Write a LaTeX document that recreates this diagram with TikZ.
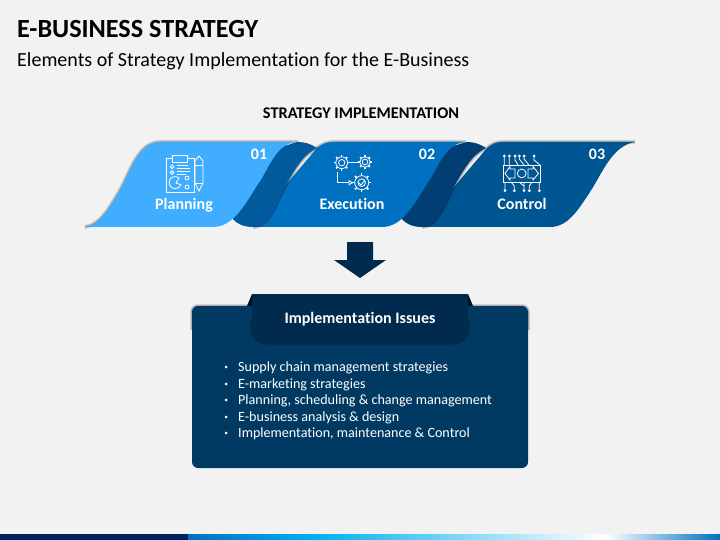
\documentclass[tikz,border=0pt]{standalone}
\usepackage{fontspec}
\setmainfont{Carlito}[Ligatures={NoCommon}]
\usetikzlibrary{positioning}
\definecolor{pageColor}{HTML}{F2F2F2}
\definecolor{ribbonLight}{HTML}{41ADFF}
\definecolor{ribbonMid}{HTML}{0070C0}
\definecolor{ribbonDark}{HTML}{005593}
\definecolor{foldOne}{HTML}{005A9C}
\definecolor{foldTwo}{HTML}{003E73}
\definecolor{boxColor}{HTML}{003A63}
\definecolor{tabColor}{HTML}{002B4F}
\definecolor{earColor}{HTML}{00121F}
\definecolor{barDark}{HTML}{002060}
\definecolor{barSky}{HTML}{00B0F0}
\tikzstyle{slide} = [x = 1pt, y = -1pt]
\tikzstyle{iconLine} = [color=white, line width=.8pt]
\tikzstyle{ribbonText} = [color=white, font=\bfseries\fontsize{16}{16}\selectfont, inner sep=0pt]
\tikzstyle{listText} = [color=white, font=\fontsize{14.1}{15}\selectfont, inner sep=0pt, anchor=base west]
\tikzstyle{softEdge} = [color=black, opacity=.12, line join=round]
\newcommand{\softEdges}[1]{
  \foreach \edgeWidth in {1,2.5,4} {
    \draw [softEdge, line width=\edgeWidth pt] #1;
  }
}
\newcommand{\gearIcon}[3]{
  \draw [iconLine] (#1,#2) circle (#3 * .74pt);
  \draw [iconLine] (#1,#2) circle (#3 * .4pt);
  \foreach \toothAngle in {0,45,...,315} {
    \draw [iconLine, line width=1.5pt] (#1,#2) ++(\toothAngle:#3 * .74pt) -- ++(\toothAngle:#3 * .26pt);
  }
}
\newcommand{\pinDots}[2]{
  \foreach \pinX in {#1} {
    \fill [white] (\pinX,#2) circle (1.5pt);
  }
}
\begin{document}
\begin{tikzpicture}[slide]
  \useasboundingbox (0,0) rectangle (720,540);
  \fill [pageColor] (0,0) rectangle (720,540);
  % bottom bar
  \fill [barDark] (0,534) rectangle (188,540);
  \fill [left color=ribbonMid, right color=barSky] (188,534) rectangle (315,540);
  \fill [left color=barSky, right color=white] (315,534) rectangle (605,540);
  \fill [left color=white, right color=ribbonMid] (605,534) rectangle (720,540);
  % ribbon 3
  \softEdges{(487,148) .. controls (492,144) and (496,142) .. (502,142) -- (635,142)}
  \fill [ribbonDark] (487,148) .. controls (492,144) and (496,142) .. (502,142) -- (635,142)
    .. controls (612,146) and (603,172) .. (590,192) .. controls (578,210) and (568,227) .. (550,227)
    -- (420,227) -- cycle;
  % fold 2, ribbon 2
  \begin{scope}[xshift=169pt]
    \softEdges{(253,227) .. controls (270,227) and (277,200) .. (287,183) .. controls (297,166) and (303,155) .. (317,148)}
    \fill [foldTwo] (225,200) -- (233,219) .. controls (238,225) and (245,227) .. (253,227)
      .. controls (270,227) and (277,200) .. (287,183) .. controls (297,166) and (303,155) .. (317,148)
      .. controls (311,144) and (305,142) .. (298,142) -- (270,150) -- cycle;
  \end{scope}
  \softEdges{(317,148) .. controls (322,144) and (327,142) .. (333,142) -- (465,142)}
  \fill [ribbonMid] (317,148) .. controls (322,144) and (327,142) .. (333,142) -- (467,142)
    .. controls (449,142) and (441,160) .. (431,178) .. controls (417,198) and (405,227) .. (382,227)
    -- (250,227) -- cycle;
  % fold 1, ribbon 1
  \softEdges{(253,227) .. controls (270,227) and (277,200) .. (287,183) .. controls (297,166) and (303,155) .. (317,148)}
  \fill [foldOne] (225,200) -- (233,219) .. controls (238,225) and (245,227) .. (253,227)
    .. controls (270,227) and (277,200) .. (287,183) .. controls (297,166) and (303,155) .. (317,148)
    .. controls (311,144) and (305,142) .. (298,142) -- (270,150) -- cycle;
  \softEdges{(85,227) .. controls (100,225) and (110,207) .. (120,190) .. controls (130,172) and (138,142) .. (160,142) -- (298,142)}
  \fill [ribbonLight] (85,227) .. controls (100,225) and (110,207) .. (120,190)
    .. controls (130,172) and (138,142) .. (160,142) -- (298,142)
    .. controls (280,142) and (272,160) .. (262,178) .. controls (248,198) and (236,227) .. (213,227)
    -- cycle;
  % texts of the ribbons
  \node [ribbonText] (numOne) at (259,154) {01};
  \node [ribbonText] (numTwo) at (427,154) {02};
  \node [ribbonText] (numThree) at (597,154) {03};
  \node [ribbonText] (planningLabel) at (184,205) {Planning};
  \node [ribbonText] (executionLabel) at (352,204) {Execution};
  \node [ribbonText] (controlLabel) at (522,204) {Control};
  % planning icon
  \draw [iconLine] (172,158) -- (166,158) -- (166,192) -- (194,192) -- (194,158) -- (187,158);
  \draw [iconLine] (172,155) rectangle (187,162);
  \draw [iconLine] (172,166.7) circle (1.8pt) (172,172.5) circle (1.8pt);
  \draw [iconLine] (177,165) -- (188,165) (177,168) -- (190,168) (177,171.5) -- (190,171.5) (177,174.5) -- (186,174.5);
  \draw [iconLine] (179,178) arc (50:340:6pt) -- (176,183) -- cycle;
  \draw [iconLine] (187,178) circle (2pt) (187,187) circle (2pt);
  \draw [iconLine] (195,161) -- (195,183) -- (199,191) -- (203,183) -- (203,161) -- (199,156) -- cycle;
  \draw [iconLine] (195,165) -- (203,165) (195,183) -- (203,183);
  % execution icon
  \gearIcon{341.7}{162.7}{8}
  \gearIcon{365}{162}{7}
  \gearIcon{361.7}{182.7}{9.5}
  \draw [iconLine] (350,162.5) -- (357.5,162.5);
  \draw [iconLine] (337.7,172) -- (337.7,182.7) -- (349,182.7);
  \draw [iconLine] (349,180.7) -- (352.5,182.7) -- (349,184.7) -- cycle;
  \draw [iconLine] (358.5,182.5) -- (361,185) -- (365,180);
  % control icon
  \draw [iconLine] (503,165) rectangle (540,182);
  \draw [iconLine] (521.7,173.4) circle (4.4pt);
  \draw [iconLine] (515,169) -- (510,169) -- (510,166.5) -- (505,173.4) -- (510,180) -- (510,178) -- (515,178) -- cycle;
  \draw [iconLine] (528,169) -- (533,169) -- (533,166.5) -- (538.5,173.4) -- (533,180) -- (533,178) -- (528,178) -- cycle;
  \draw [iconLine] (504.3,156) -- (504.3,165) (509.3,156) -- (509.3,165) (515,156) -- (515,160) -- (518,165);
  \draw [iconLine] (519.3,156) -- (519.3,159) -- (524,165) (524,156) -- (524,159) -- (529,165);
  \draw [iconLine] (534,156) -- (534,160) -- (540,165);
  \draw [iconLine] (505,182) -- (505,190.7) (514.3,190.7) -- (514.3,186) -- (511,182);
  \draw [iconLine] (524,190.7) -- (524,182) (529.3,190.7) -- (529.3,186) -- (532,182);
  \draw [iconLine] (524,186) -- (519,182) (539.3,190.7) -- (539.3,182);
  \pinDots{504.3,509.3,515,519.3,524,534}{156}
  \pinDots{505,514.3,524,529.3,539.3}{190.7}
  % arrow and headings
  \fill [tabColor] (347,242) -- (373,242) -- (373,260) -- (386,260) -- (360,278) -- (334,260) -- (347,260) -- cycle;
  \node [inner sep=0pt, font=\bfseries\fontsize{26.2}{26}\selectfont, anchor=base west] (slideTitle) at (17,38) {E-BUSINESS STRATEGY};
  \node [inner sep=0pt, font=\fontsize{20}{20}\selectfont, anchor=base west] (slideSubtitle) at (17,67) {Elements of Strategy Implementation for the E-Business};
  \node [inner sep=0pt, font=\bfseries\fontsize{16.3}{16}\selectfont] (ribbonHeading) at (361,113) {STRATEGY IMPLEMENTATION};
  % box with tab
  \softEdges{[rounded corners=6pt] (192,330) -- (192,306) -- (528,306) -- (528,330)}
  \fill [boxColor, rounded corners=6pt] (192,306) rectangle (528,468);
  \fill [earColor] (252,294) -- (247,306) -- (252,306) -- cycle;
  \fill [earColor] (468,294) -- (473,306) -- (468,306) -- cycle;
  \softEdges{[rounded corners=15pt] (252,320) -- (252,343) -- (468,343) -- (468,320)}
  \fill [tabColor, rounded corners=15pt] (252,280) -- (252,343) -- (468,343) -- (468,280) -- cycle;
  \fill [pageColor] (245,280) rectangle (475,294);
  \node [inner sep=0pt, color=white, font=\bfseries\fontsize{16}{16}\selectfont] (tabLabel) at (360,319) {Implementation Issues};
  % list
  \foreach \itemName/\itemY/\itemText in {
    itemOne/371/{Supply chain management strategies},
    itemTwo/388/{E-marketing strategies},
    itemThree/404/{Planning, scheduling \& change management},
    itemFour/421/{E-business analysis \& design},
    itemFive/437/{Implementation, maintenance \& Control}} {
    \fill [white] (226,\itemY - 4) circle (1.5pt);
    \node [listText] (\itemName) at (238,\itemY) {\itemText};
  }
\end{tikzpicture}
\end{document}
